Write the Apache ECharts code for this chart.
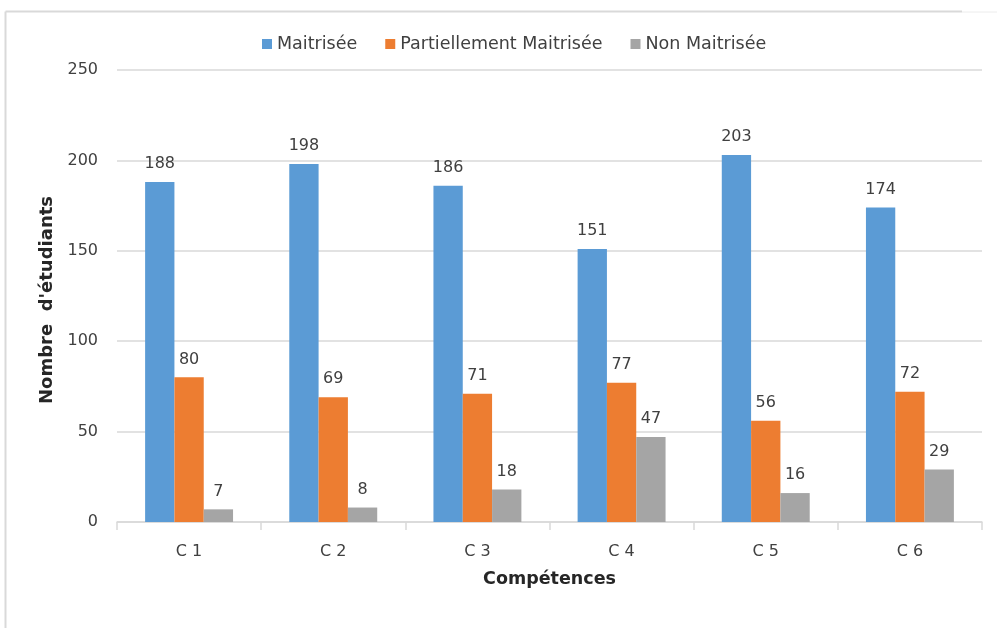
<!DOCTYPE html>
<html>
<head>
<meta charset="utf-8">
<script src="https://cdn.jsdelivr.net/npm/echarts@6/dist/echarts.min.js"></script>
<style>
  html, body { margin: 0; padding: 0; background: #fff; }
  #main { width: 997px; height: 628px; }
</style>
</head>
<body>
<div id="main"></div>
<script>
// categories and values
const competences = ["C 1", "C 2", "C 3", "C 4", "C 5", "C 6"];
const maitrisee = [188, 198, 186, 151, 203, 174];
const partiellement = [80, 69, 71, 77, 56, 72];
const nonMaitrisee = [7, 8, 18, 47, 16, 29];

const font = "DejaVu Sans";
const labelStyle = { show: true, position: "top", distance: 10, color: "#404040", fontSize: 16, fontFamily: font };

let myChart = echarts.init(document.getElementById("main"));

let option = {
  animation: false,
  backgroundColor: "#fff",
  // outer frame (left + top edges only, like the crop of the original)
  graphic: [
    {
      type: "line",
      shape: { x1: 5.5, y1: 11.5, x2: 5.5, y2: 628 },
      style: { stroke: "#d9d9d9", lineWidth: 2 },
      silent: true
    },
    {
      type: "line",
      shape: { x1: 5.5, y1: 11.5, x2: 962, y2: 11.5 },
      style: { stroke: "#d9d9d9", lineWidth: 2 },
      silent: true
    },
    {
      type: "line",
      shape: { x1: 962, y1: 12, x2: 997, y2: 12 },
      style: { stroke: "#ececec", lineWidth: 1 },
      silent: true
    }
  ],
  legend: {
    top: 30,
    left: 257,
    itemWidth: 10,
    itemHeight: 10,
    itemGap: 28,
    icon: "rect",
    textStyle: { color: "#404040", fontSize: 17.5, fontFamily: font },
    data: ["Maitrisée", "Partiellement Maitrisée", "Non Maitrisée"]
  },
  grid: { left: 117, right: 15, top: 70, bottom: 106, containLabel: false },
  xAxis: {
    type: "category",
    data: competences,
    name: "Compétences",
    nameLocation: "middle",
    nameGap: 48,
    nameTextStyle: { fontWeight: "bold", fontSize: 17.5, color: "#262626", fontFamily: font },
    axisLine: { lineStyle: { color: "#d9d9d9", width: 1.5 } },
    axisTick: { show: true, length: 8, lineStyle: { color: "#d9d9d9", width: 1.5 } },
    axisLabel: { color: "#404040", fontSize: 16, margin: 22, fontFamily: font }
  },
  yAxis: {
    type: "value",
    min: 0,
    max: 250,
    interval: 50,
    name: "Nombre  d'étudiants",
    nameLocation: "middle",
    nameGap: 60,
    nameTextStyle: { fontWeight: "bold", fontSize: 18, color: "#262626", fontFamily: font, padding: [0, 0, 0, -8] },
    axisLine: { show: false },
    axisTick: { show: false },
    axisLabel: { color: "#404040", fontSize: 16, margin: 19, fontFamily: font },
    splitLine: { lineStyle: { color: "#d9d9d9", width: 1.5 } }
  },
  series: [
    {
      name: "Maitrisée",
      type: "bar",
      barGap: 0,
      barCategoryGap: "39%",
      itemStyle: { color: "#5b9bd5" },
      label: labelStyle,
      data: maitrisee
    },
    {
      name: "Partiellement Maitrisée",
      type: "bar",
      barGap: 0,
      barCategoryGap: "39%",
      itemStyle: { color: "#ed7d31" },
      label: labelStyle,
      data: partiellement
    },
    {
      name: "Non Maitrisée",
      type: "bar",
      barGap: 0,
      barCategoryGap: "39%",
      itemStyle: { color: "#a5a5a5" },
      label: labelStyle,
      data: nonMaitrisee
    }
  ]
};

option && myChart.setOption(option);
</script>
</body>
</html>
